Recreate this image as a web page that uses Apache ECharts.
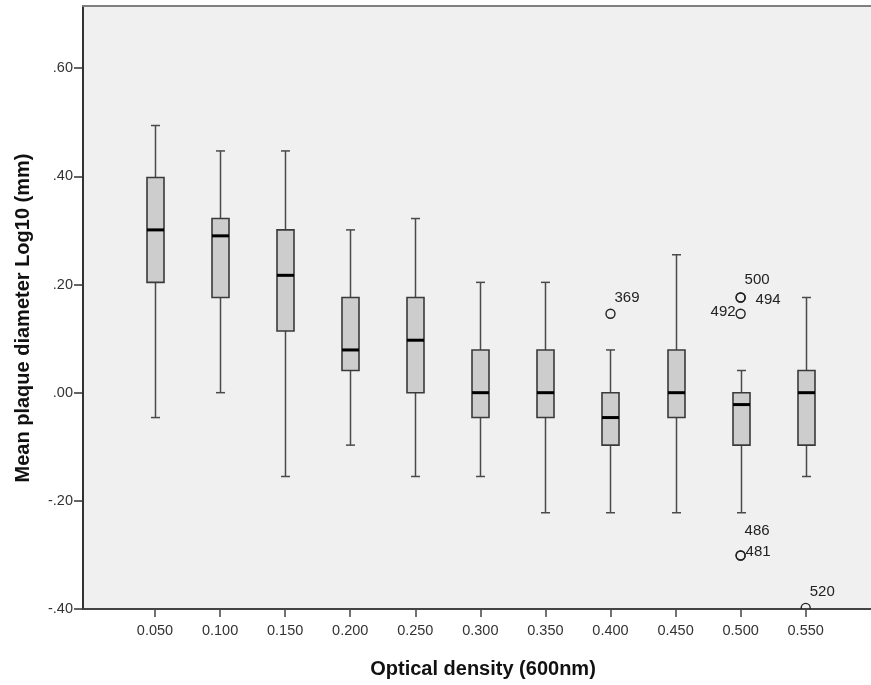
<!DOCTYPE html>
<html>
<head>
<meta charset="utf-8">
<script src="https://cdn.jsdelivr.net/npm/echarts@6/dist/echarts.min.js"></script>
<style>
  html, body { margin: 0; padding: 0; background: #fff; }
  #chart { width: 871px; height: 685px; }
</style>
</head>
<body>
<div id="chart"></div>
<script>
// optical density groups (x positions)
var densities = [0.05, 0.10, 0.15, 0.20, 0.25, 0.30, 0.35, 0.40, 0.45, 0.50, 0.55];
// box statistics, log10 mm
var whiskerLow  = [-0.046, 0.000, -0.155, -0.097, -0.155, -0.155, -0.222, -0.222, -0.222, -0.222, -0.155];
var quart1      = [0.204, 0.176, 0.114, 0.041, 0.000, -0.046, -0.046, -0.097, -0.046, -0.097, -0.097];
var medians     = [0.301, 0.290, 0.217, 0.079, 0.097, 0.000, 0.000, -0.046, 0.000, -0.022, 0.000];
var quart3      = [0.398, 0.322, 0.301, 0.176, 0.176, 0.079, 0.079, 0.000, 0.079, 0.000, 0.041];
var whiskerHigh = [0.494, 0.447, 0.447, 0.301, 0.322, 0.204, 0.204, 0.079, 0.255, 0.041, 0.176];

// outliers
var outlierX   = [0.40, 0.50, 0.50, 0.50, 0.50, 0.50, 0.55];
var outlierY   = [0.146, 0.176, 0.176, 0.146, -0.301, -0.301, -0.398];
var outlierIds = ['369', '500', '494', '492', '486', '481', '520'];

var yTicks = [-0.4, -0.2, 0, 0.2, 0.4, 0.6];

// where each case number sits next to its circle
var labelPlace = {
  '369': [4, -16, 'left'],
  '500': [4, -18, 'left'],
  '494': [15, 2, 'left'],
  '492': [-5, -2, 'right'],
  '486': [4, -25, 'left'],
  '481': [5, -4, 'left'],
  '520': [4, -16, 'left']
};

var FONT = '"Liberation Sans", Arial, sans-serif';

var boxData = densities.map(function (d, i) {
  return [d, whiskerLow[i], quart1[i], medians[i], quart3[i], whiskerHigh[i]];
});
var outlierData = outlierX.map(function (x, i) {
  return [x, outlierY[i], i];
});

function renderBox(params, api) {
  var x = api.value(0);
  var lo = api.coord([x, api.value(1)]);
  var b1 = api.coord([x, api.value(2)]);
  var md = api.coord([x, api.value(3)]);
  var b3 = api.coord([x, api.value(4)]);
  var hi = api.coord([x, api.value(5)]);
  var cx = Math.round(lo[0]) + 0.5;
  var hw = 8.5, cw = 4.5;
  var wStyle = { stroke: '#4a4a4a', lineWidth: 1.5 };
  return {
    type: 'group',
    children: [
      { type: 'line', shape: { x1: cx, y1: hi[1], x2: cx, y2: b3[1] }, style: wStyle },
      { type: 'line', shape: { x1: cx, y1: b1[1], x2: cx, y2: lo[1] }, style: wStyle },
      { type: 'line', shape: { x1: cx - cw, y1: hi[1], x2: cx + cw, y2: hi[1] }, style: wStyle },
      { type: 'line', shape: { x1: cx - cw, y1: lo[1], x2: cx + cw, y2: lo[1] }, style: wStyle },
      { type: 'rect', shape: { x: cx - hw, y: b3[1], width: hw * 2, height: b1[1] - b3[1] },
        style: { fill: '#cdcdcd', stroke: '#3a3a3a', lineWidth: 1.6 } },
      { type: 'line', shape: { x1: cx - hw, y1: md[1], x2: cx + hw, y2: md[1] },
        style: { stroke: '#000', lineWidth: 3 } }
    ]
  };
}

function renderOutlier(params, api) {
  var p = api.coord([api.value(0), api.value(1)]);
  var id = outlierIds[api.value(2)];
  var pl = labelPlace[id];
  return {
    type: 'group',
    children: [
      { type: 'circle', shape: { cx: p[0], cy: p[1], r: 4.5 },
        style: { fill: 'none', stroke: '#222', lineWidth: 1.4 } },
      { type: 'text', x: p[0] + pl[0], y: p[1] + pl[1],
        style: { text: id, fill: '#222', font: '15px ' + FONT, align: pl[2], verticalAlign: 'middle' } }
    ]
  };
}

var chart = echarts.init(document.getElementById('chart'), null, { renderer: 'canvas' });

var option = {
  animation: false,
  backgroundColor: '#fff',
  grid: {
    left: 83, top: 6, width: 797, height: 603,
    outerBoundsMode: 'none',
    containLabel: false,
    show: true, backgroundColor: '#f0f0f0', borderWidth: 0
  },
  xAxis: [{
    type: 'value',
    min: -0.00533,
    max: 0.6071,
    position: 'bottom',
    axisLine: { onZero: false, lineStyle: { color: '#444', width: 2 } },
    axisTick: { show: true, length: 8, customValues: densities, lineStyle: { color: '#444', width: 1.5 } },
    axisLabel: {
      customValues: densities, color: '#333', fontSize: 14.5, fontFamily: FONT, margin: 14,
      formatter: function (v) { return v.toFixed(3); }
    },
    splitLine: { show: false }
  }, {
    type: 'value',
    min: -0.00533,
    max: 0.6071,
    position: 'top',
    axisLine: { onZero: false, lineStyle: { color: '#808080', width: 2 } },
    axisTick: { show: false },
    axisLabel: { show: false },
    splitLine: { show: false }
  }],
  yAxis: {
    type: 'value',
    min: -0.4,
    max: 0.715,
    axisLine: { show: true, onZero: false, lineStyle: { color: '#333', width: 2 } },
    axisTick: { show: true, length: 9, customValues: yTicks, lineStyle: { color: '#333', width: 1.5 } },
    axisLabel: {
      customValues: yTicks, color: '#333', fontSize: 14.5, fontFamily: FONT, margin: 10,
      formatter: function (v) {
        var s = Math.abs(v).toFixed(2).replace(/^0/, '');
        return (v < -1e-9 ? '-' : '') + s;
      }
    },
    splitLine: { show: false }
  },
  graphic: [
    { type: 'text', x: 483, y: 669,
      style: { text: 'Optical density (600nm)', font: 'bold 20px ' + FONT, fill: '#111',
        align: 'center', verticalAlign: 'middle' } },
    { type: 'text', x: 23, y: 318, rotation: Math.PI / 2,
      style: { text: 'Mean plaque diameter Log10 (mm)', font: 'bold 20px ' + FONT, fill: '#111',
        align: 'center', verticalAlign: 'middle' } }
  ],
  series: [{
    type: 'custom',
    renderItem: renderBox,
    data: boxData,
    encode: { x: 0, y: [1, 2, 3, 4, 5] },
    clip: true
  }, {
    type: 'custom',
    renderItem: renderOutlier,
    data: outlierData,
    encode: { x: 0, y: 1 },
    clip: true
  }]
};

chart.setOption(option);
</script>
</body>
</html>
